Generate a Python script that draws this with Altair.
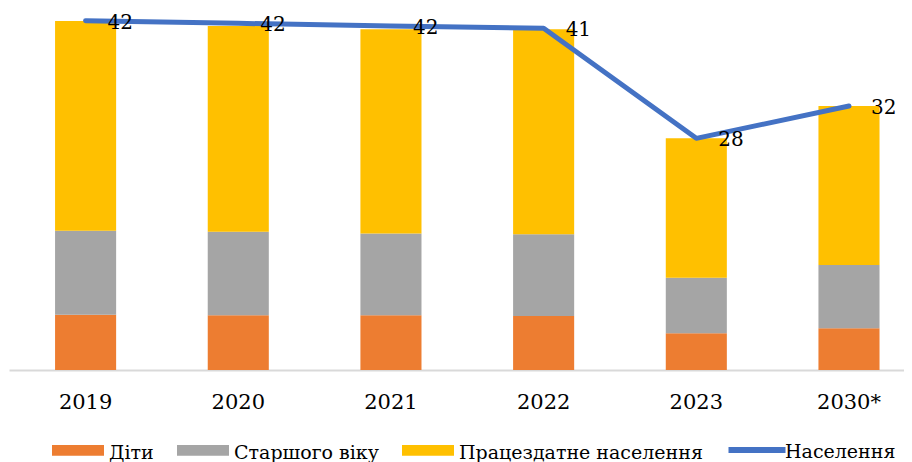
import altair as alt
import pandas as pd

years = ["2019", "2020", "2021", "2022", "2023", "2030*"]
children = [6.68, 6.6, 6.6, 6.52, 4.43, 5.04]
elderly = [10.14, 10.1, 9.9, 9.87, 6.71, 7.64]
working = [25.33, 24.84, 24.64, 24.76, 16.84, 19.2]
population = [42.19, 41.87, 41.55, 41.27, 27.98, 31.88]

series_names = ["Діти", "Старшого віку", "Працездатне населення"]
bar_colors = ["#ED7D31", "#A5A5A5", "#FFC000"]
line_name = "Населення"
line_color = "#4472C4"

rows = []
for i, yr in enumerate(years):
    for j, vals in enumerate([children, elderly, working]):
        rows.append({"year": yr, "group": series_names[j], "value": vals[i], "order": j})
bars_df = pd.DataFrame(rows)
line_df = pd.DataFrame({"year": years, "total": population, "s": [line_name] * len(years)})

FONT = "DejaVu Serif"

xscale = alt.Scale(paddingInner=0.6, paddingOuter=0.231, align=0.653)
xaxis = alt.Axis(
    title=None, labelAngle=0, labelFont=FONT, labelFontSize=21, labelColor="black",
    labelBaseline="alphabetic", labelPadding=38, ticks=False, tickSize=0,
    domainColor="#D9D9D9", domainWidth=2, grid=False,
)
yscale = alt.Scale(domain=[0, 43.72], nice=False, zero=True)

bars = alt.Chart(bars_df).mark_bar().encode(
    x=alt.X("year:N", sort=years, scale=xscale, axis=xaxis),
    y=alt.Y("value:Q", stack="zero", scale=yscale, axis=None),
    color=alt.Color(
        "group:N",
        scale=alt.Scale(domain=series_names, range=bar_colors),
        legend=alt.Legend(
            title=None, orient="none", legendX=43, legendY=419, direction="horizontal",
            symbolType="M-1,-0.31H1V0.11H-1Z", symbolSize=2704, symbolStrokeWidth=0,
            labelFont=FONT, labelFontSize=19, labelColor="black", labelOffset=5,
            columnPadding=23, padding=0, labelLimit=400,
        ),
    ),
    order=alt.Order("order:Q", sort="ascending"),
)

line = alt.Chart(line_df).mark_line(strokeWidth=5, strokeCap="round", strokeJoin="round").encode(
    x=alt.X("year:N", sort=years),
    y=alt.Y("total:Q", scale=yscale, axis=None),
    stroke=alt.Stroke(
        "s:N",
        scale=alt.Scale(domain=[line_name], range=[line_color]),
        legend=alt.Legend(
            title=None, orient="none", legendX=720, legendY=416,
            symbolType="M-1.14,-0.08H1.14", symbolSize=2500, symbolStrokeWidth=6,
            labelFont=FONT, labelFontSize=19, labelColor="black", labelOffset=0,
            padding=0, labelLimit=400,
        ),
    ),
)

labels = alt.Chart(line_df).mark_text(
    align="left", baseline="middle", dx=22, dy=2, font=FONT, fontSize=20, color="black"
).encode(
    x=alt.X("year:N", sort=years),
    y=alt.Y("total:Q", scale=yscale, axis=None),
    text=alt.Text("total:Q", format=".0f"),
)

chart = alt.layer(bars, line, labels).properties(
    width=895,
    height=362,
    padding={"left": 1, "top": 0, "right": 0, "bottom": 100},
    autosize=alt.AutoSizeParams(type="none"),
).configure_view(strokeWidth=0)

chart.save("out.html", embed_options={"renderer": "svg", "actions": False})
